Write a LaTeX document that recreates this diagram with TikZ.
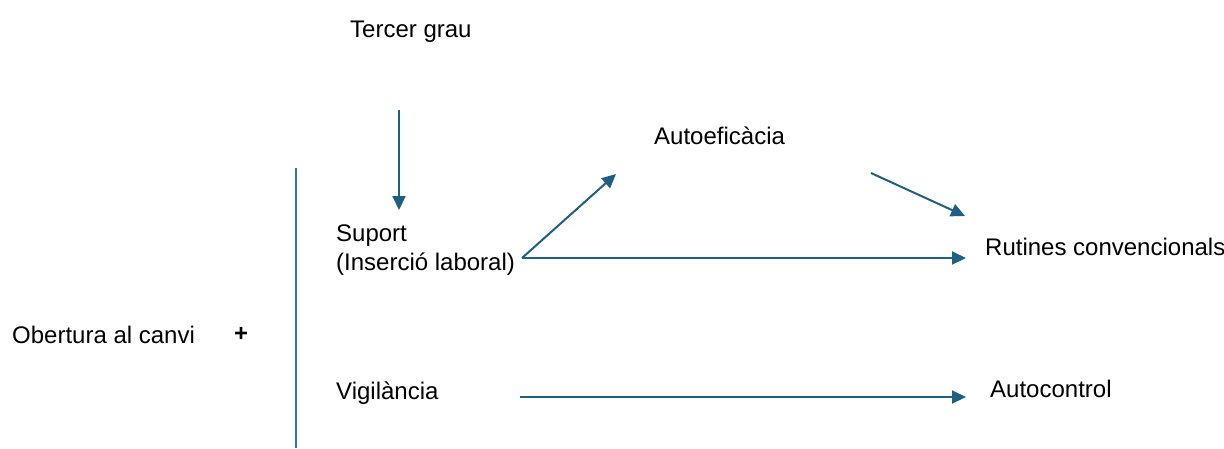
\documentclass[tikz,border=0pt]{standalone}
\usepackage{fontspec}
\setmainfont{Liberation Sans}
\usetikzlibrary{arrows.meta}
\definecolor{arrowblue}{RGB}{31,96,130}
\definecolor{lineblue}{RGB}{46,117,182}
\begin{document}
\begin{tikzpicture}[x=1pt,y=-1pt,
  lbl/.style={inner sep=0pt,anchor=base west,font=\fontsize{24}{29}\selectfont},
  arr/.style={draw=arrowblue,line width=2pt,-{Triangle[length=14pt,width=13pt]}},
  divider/.style={draw=lineblue,line width=1.5pt}]
\useasboundingbox (0,0) rectangle (1224,448);
\node[lbl] (tercer) at (350,37) {Tercer grau};
\node[lbl] (autoef) at (654,144) {Autoeficàcia};
\node[lbl] (suport) at (336,241) {Suport};
\node[lbl] (insercio) at (336,270) {(Inserció laboral)};
\node[lbl] (rutines) at (985,255) {Rutines convencionals};
\node[lbl] (obertura) at (12,343) {Obertura al canvi};
\node[lbl,font=\fontsize{24}{29}\bfseries] (plus) at (234,341) {+};
\node[lbl] (vigil) at (336,399) {Vigilància};
\node[lbl] (autoc) at (990,397) {Autocontrol};
% connector end points
\coordinate (tercerS) at (399,110);
\coordinate (suportN) at (399,210);
\coordinate (suportE) at (522,258);
\coordinate (autoefW) at (616,174);
\coordinate (autoefE) at (871,173);
\coordinate (rutinesNW) at (965,216);
\coordinate (rutinesW) at (966,258);
\coordinate (vigilE) at (520,397);
\coordinate (autocW) at (966,397);
\coordinate (divTop) at (296,168);
\coordinate (divBot) at (296,448);
\draw[divider] (divTop) -- (divBot);
\draw[arr] (tercerS) -- (suportN);
\draw[arr] (suportE) -- (autoefW);
\draw[arr] (suportE) -- (rutinesW);
\draw[arr] (autoefE) -- (rutinesNW);
\draw[arr] (vigilE) -- (autocW);
\end{tikzpicture}
\end{document}
